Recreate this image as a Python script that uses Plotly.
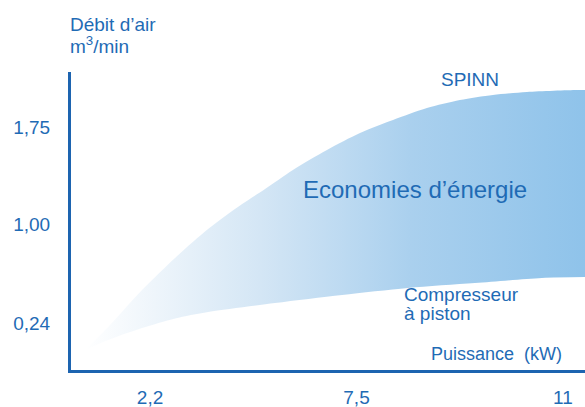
import plotly.graph_objects as go

# Data (x in axis-position units: 1 -> 2,2 kW, 2 -> 7,5 kW, 3 -> 11 kW)
x_ticks = [1, 2, 3]
x_tick_labels = ["2,2", "7,5", "11"]
y_ticks = [0.24, 1.00, 1.75]

spinn_x = [0.685, 0.797, 0.961, 1.121, 1.281, 1.446, 1.557, 1.692, 1.857, 2.017,
           2.177, 2.341, 2.501, 2.661, 2.826, 3.068, 3.107]
spinn_y = [0.032, 0.209, 0.494, 0.741, 0.964, 1.157, 1.272, 1.419, 1.573, 1.704,
           1.804, 1.896, 1.958, 1.997, 2.020, 2.035, 2.035]

piston_x = [0.685, 0.797, 0.961, 1.121, 1.281, 1.605, 1.930, 2.249, 2.574, 2.898, 3.107]
piston_y = [0.032, 0.109, 0.201, 0.275, 0.325, 0.394, 0.456, 0.510, 0.548, 0.587, 0.594]

BLUE = "#1f6bb5"
AXIS = "#1d64b0"
FONT = "Liberation Sans, Arial, sans-serif"

fig = go.Figure()
fig.add_trace(go.Scatter(
    x=piston_x, y=piston_y, mode="lines",
    line=dict(width=0, shape="spline", smoothing=0.8),
    hoverinfo="skip", showlegend=False,
))
fig.add_trace(go.Scatter(
    x=spinn_x, y=spinn_y, mode="lines", fill="tonexty",
    line=dict(width=0, shape="spline", smoothing=0.8),
    fillgradient=dict(type="horizontal",
                      colorscale=[[0, "#ffffff"], [0.35, "#d4e6f5"], [0.65, "#aad0ee"], [1, "#8fc3ea"]]),
    hoverinfo="skip", showlegend=False,
))

fig.update_layout(
    width=585, height=407,
    margin=dict(l=71, r=0, t=72, b=37),
    paper_bgcolor="white", plot_bgcolor="white",
    separators=", ",
    font=dict(family=FONT, size=19, color=BLUE),
    showlegend=False,
    xaxis=dict(range=[0.617, 3.107], showgrid=False, zeroline=False, automargin=False,
               showline=True, linecolor=AXIS, linewidth=3,
               tickvals=x_ticks, ticktext=x_tick_labels,
               ticks="outside", ticklen=8, tickcolor="rgba(0,0,0,0)",
               tickfont=dict(size=19, color=BLUE)),
    yaxis=dict(range=[-0.122, 2.174], showgrid=False, zeroline=False, automargin=False,
               showline=True, linecolor=AXIS, linewidth=3,
               tickvals=y_ticks, tickformat=".2f",
               ticks="outside", ticklen=14, tickcolor="rgba(0,0,0,0)",
               tickfont=dict(size=19, color=BLUE)),
    annotations=[
        dict(text="Débit d’air", xref="paper", yref="paper", x=-0.006, y=1.158,
             xanchor="left", yanchor="middle", showarrow=False, font=dict(size=19, color=BLUE)),
        dict(text="m<sup>3</sup>/min", xref="paper", yref="paper", x=-0.006, y=1.091,
             xanchor="left", yanchor="middle", showarrow=False, font=dict(size=19, color=BLUE)),
        dict(text="SPINN", xref="x", yref="y", x=2.550, y=2.120, showarrow=False,
             xanchor="center", yanchor="middle", font=dict(size=19, color=BLUE)),
        dict(text="Economies d’énergie", xref="x", yref="y", x=2.283, y=1.272, showarrow=False,
             xanchor="center", yanchor="middle", font=dict(size=24, color=BLUE)),
        dict(text="Compresseur", xref="x", yref="y", x=2.220, y=0.456, showarrow=False,
             xanchor="left", yanchor="middle", font=dict(size=19, color=BLUE)),
        dict(text="à piston", xref="x", yref="y", x=2.220, y=0.317, showarrow=False,
             xanchor="left", yanchor="middle", font=dict(size=19, color=BLUE)),
        dict(text="Puissance  (kW)", xref="x", yref="y", x=3.005, y=0.001, showarrow=False,
             xanchor="right", yanchor="middle", font=dict(size=18, color=BLUE)),
    ],
)

fig.write_html("out.html", config={"displayModeBar": False},
               post_script="document.body.style.margin='0';")
